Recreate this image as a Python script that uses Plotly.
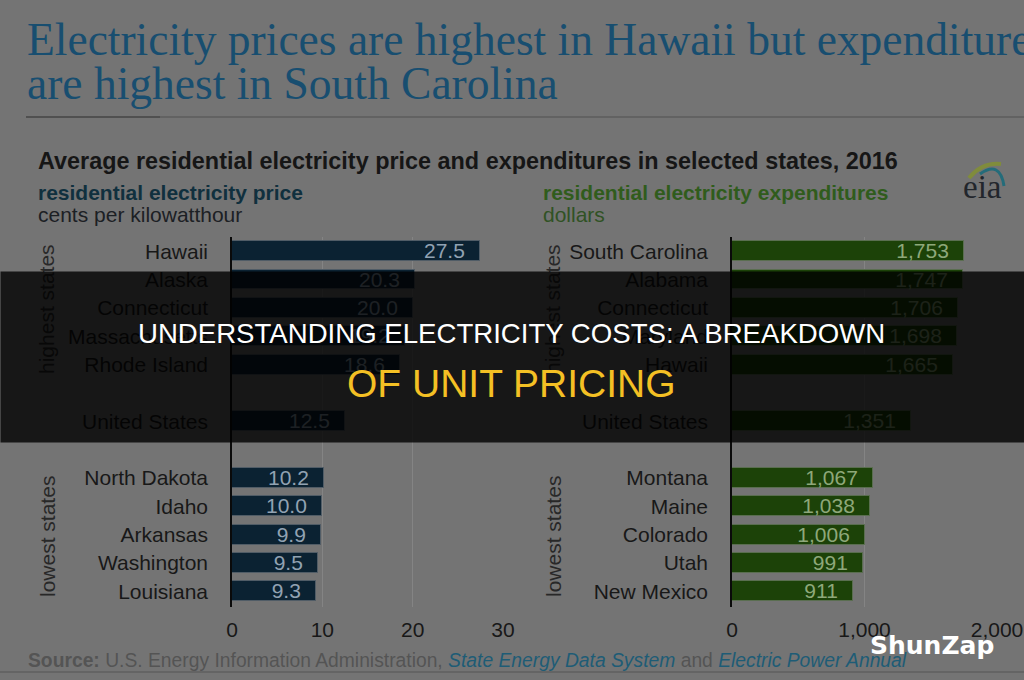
import plotly.graph_objects as go

# ---------------- data ----------------
price_high_states = ["Hawaii", "Alaska", "Connecticut", "Massachusetts", "Rhode Island"]
price_high_values = [27.5, 20.3, 20.0, 19.2, 18.6]
price_us_value = 12.5
price_low_states = ["North Dakota", "Idaho", "Arkansas", "Washington", "Louisiana"]
price_low_values = [10.2, 10.0, 9.9, 9.5, 9.3]

exp_high_states = ["South Carolina", "Alabama", "Connecticut", "Maryland", "Hawaii"]
exp_high_values = [1753, 1747, 1706, 1698, 1665]
exp_us_value = 1351
exp_low_states = ["Montana", "Maine", "Colorado", "Utah", "New Mexico"]
exp_low_values = [1067, 1038, 1006, 991, 911]

price_ticks = [0, 10, 20, 30]
exp_ticks = [0, 1000, 2000]

W, H = 1024, 680
BG = "rgb(116,116,116)"


def px(x):
    return x / W


def py(y):
    return 1 - y / H


def build(high_s, high_v, us_v, low_s, low_v):
    names = list(high_s) + ["United States"] + list(low_s)
    vals = list(high_v) + [us_v] + list(low_v)
    n = len(high_s)
    slots = list(range(n)) + [n + 1] + [n + 3 + i for i in range(len(low_s))]
    return names, vals, slots


p_names, p_vals, p_slots = build(price_high_states, price_high_values, price_us_value,
                                 price_low_states, price_low_values)
e_names, e_vals, e_slots = build(exp_high_states, exp_high_values, exp_us_value,
                                 exp_low_states, exp_low_values)

NB = "\u00a0\u00a0"
fig = go.Figure()
fig.add_trace(go.Bar(
    x=p_vals, y=p_slots, orientation="h", width=0.7,
    marker=dict(color="rgb(11,34,50)", line=dict(color="rgb(80,92,102)", width=1)),
    text=[f"{v:.1f}{NB}" for v in p_vals], textposition="inside", insidetextanchor="end",
    constraintext="none",
    textfont=dict(family="Liberation Sans, Arial", size=21, color="rgb(146,162,178)"),
    xaxis="x", yaxis="y", hoverinfo="skip", showlegend=False,
))
fig.add_trace(go.Bar(
    x=e_vals, y=e_slots, orientation="h", width=0.7,
    marker=dict(color="rgb(28,66,8)", line=dict(color="rgb(90,110,80)", width=1)),
    text=[f"{v:,}{NB}" for v in e_vals], textposition="inside", insidetextanchor="end",
    constraintext="none",
    textfont=dict(family="Liberation Sans, Arial", size=21, color="rgb(142,168,122)"),
    xaxis="x2", yaxis="y2", hoverinfo="skip", showlegend=False,
))

ydom = [py(607), py(237)]
yrange = [12.55, -0.5]
tickfont = dict(family="Liberation Sans, Arial", size=21, color="rgb(24,24,24)")
common_x = dict(showgrid=True, gridcolor="rgb(132,132,132)", gridwidth=1, zeroline=False,
                ticks="", showline=False, tickfont=tickfont, ticklabelstandoff=8,
                fixedrange=True, automargin=False)
common_y = dict(domain=ydom, range=yrange, showgrid=False, zeroline=False, ticks="",
                showline=True, linecolor="rgb(10,10,10)", linewidth=1.5,
                tickfont=tickfont, ticklabelstandoff=18, fixedrange=True, automargin=False)

fig.update_layout(
    width=W, height=H, margin=dict(l=0, r=0, t=0, b=0, autoexpand=False),
    paper_bgcolor=BG, plot_bgcolor=BG, bargap=0,
    xaxis=dict(domain=[px(232), px(503)], range=[0, 30], tickvals=price_ticks,
               anchor="y", **common_x),
    xaxis2=dict(domain=[px(732), px(997)], range=[0, 2000], tickvals=exp_ticks,
                tickformat=",", anchor="y2", **common_x),
    yaxis=dict(anchor="x", tickvals=p_slots, ticktext=p_names, **common_y),
    yaxis2=dict(anchor="x2", tickvals=e_slots, ticktext=e_names, **common_y),
)

SANS = "Liberation Sans, Arial"
SERIF = "Liberation Serif, Times New Roman"
ann = []


def text(x, y, s, size, color, family=SANS, xanchor="left", angle=0, yanchor="middle"):
    ann.append(dict(x=px(x), y=py(y), xref="paper", yref="paper", text=s, showarrow=False,
                    xanchor=xanchor, yanchor=yanchor, textangle=angle,
                    font=dict(family=family, size=size, color=color)))


title_col = "rgb(24,78,112)"
text(25, 39, "Electricity prices are highest in Hawaii but expenditures", 45.5, title_col, SERIF)
text(25, 83, "are highest in South Carolina", 45.5, title_col, SERIF)

text(36, 161, "<b>Average residential electricity price and expenditures in selected states, 2016</b>",
     23.4, "rgb(22,22,22)")
text(36, 192, "<b>residential electricity price</b>", 21, "rgb(16,48,62)")
text(36, 214, "cents per kilowatthour", 21, "rgb(28,32,36)")
text(541, 192, "<b>residential electricity expenditures</b>", 21, "rgb(48,92,28)")
text(541, 214, "dollars", 21, "rgb(48,82,36)")

text(982, 187, "eia", 33, "rgb(34,38,44)", SERIF, xanchor="center")

for cx in (47, 553):
    text(cx, 309, "highest states", 21, "rgb(40,40,40)", angle=-90, xanchor="center")
    text(cx, 537, "lowest states", 21, "rgb(40,40,40)", angle=-90, xanchor="center")

link = "rgb(30,92,118)"
src = ("<b>Source:</b> U.S. Energy Information Administration, "
       f"<i><span style='color:{link}'>State Energy Data System</span></i> and "
       f"<i><span style='color:{link}'>Electric Power Annual</span></i>")
text(26, 660, src, 19.3, "rgb(84,84,84)")

text(932, 645, "<b>ShunZap</b>", 25, "white", "DejaVu Sans", xanchor="center")

# dark banner overlay (drawn above everything before it)
ann.append(dict(x=0, y=py(271), xref="paper", yref="paper", text="\u00a0", showarrow=False,
                xanchor="left", yanchor="top", width=W, height=170, borderpad=0,
                bgcolor="rgba(0,0,0,0.80)", font=dict(size=10)))
text(511, 333, "UNDERSTANDING ELECTRICITY COSTS: A BREAKDOWN", 27.6, "white", xanchor="center")
text(511, 383, "OF UNIT PRICING", 39, "rgb(244,192,36)", xanchor="center")

fig.update_layout(annotations=ann)


def P(x, y):
    return f"{px(x):.5f},{py(y):.5f}"


shapes = [
    dict(type="line", xref="paper", yref="paper", x0=px(26), x1=1, y0=py(117), y1=py(117),
         line=dict(color="rgb(98,98,98)", width=2)),
    dict(type="line", xref="paper", yref="paper", x0=px(26), x1=px(160), y0=py(117), y1=py(117),
         line=dict(color="rgb(80,80,80)", width=2)),
    dict(type="line", xref="paper", yref="paper", x0=0, x1=1, y0=py(672), y1=py(672),
         line=dict(color="rgb(100,100,100)", width=2)),
    dict(type="path", xref="paper", yref="paper",
         path=f"M {P(969,178)} Q {P(982,162)} {P(1001,164)}",
         line=dict(color="rgb(128,140,60)", width=4)),
    dict(type="path", xref="paper", yref="paper",
         path=f"M {P(980,174)} Q {P(1000,160)} {P(1004,186)}",
         line=dict(color="rgb(36,108,122)", width=3)),
]
fig.update_layout(shapes=shapes)

fig.write_html("out.html")
